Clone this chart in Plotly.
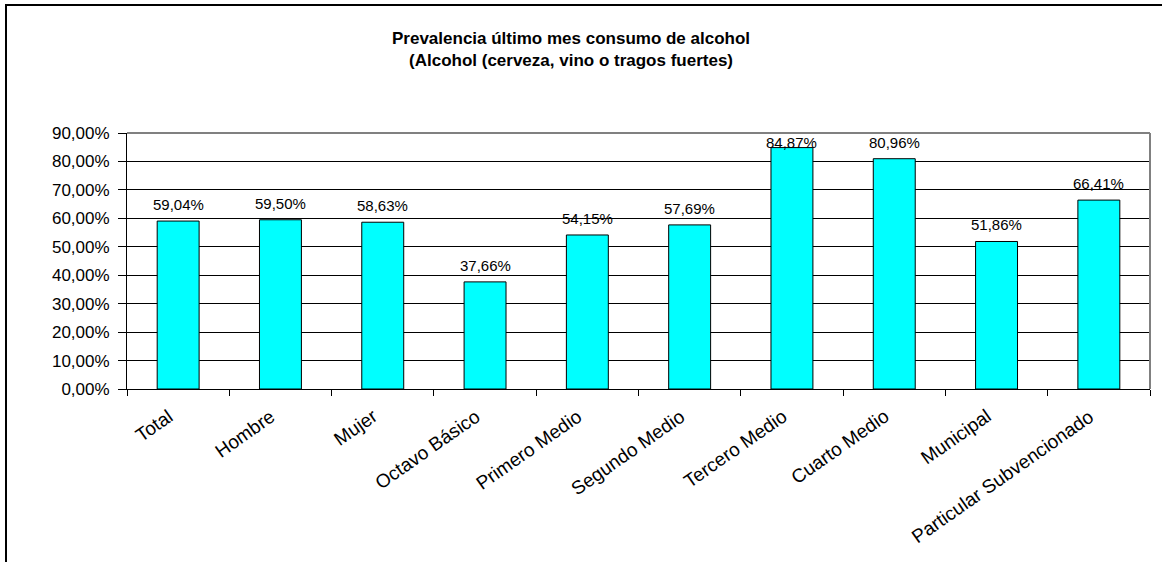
import plotly.graph_objects as go

categories = ["Total", "Hombre", "Mujer", "Octavo Básico", "Primero Medio",
              "Segundo Medio", "Tercero Medio", "Cuarto Medio", "Municipal",
              "Particular Subvencionado"]
prevalence = [0.5904, 0.5950, 0.5863, 0.3766, 0.5415, 0.5769, 0.8487, 0.8096, 0.5186, 0.6641]
title_lines = ["Prevalencia último mes consumo de alcohol",
               "(Alcohol (cerveza, vino o tragos fuertes)"]

FONT = "Liberation Sans, Arial, sans-serif"
Y_MAX = 0.9

W, H = 1162, 562
L, R, T, B = 127, 12, 133, 173
pw, ph = W - L - R, H - T - B
units_per_px = Y_MAX / ph


def px_x(x):
    return (x - L) / pw


def px_y(y):
    return (H - B - y) / ph


fig = go.Figure()
fig.add_trace(go.Bar(
    x=categories, y=prevalence,
    marker=dict(color="#00FFFF", line=dict(color="black", width=1)),
    hoverinfo="skip",
))

annotations = []
# two-line bold title
annotations.append(dict(
    text="<br>".join("<b>" + line + "</b>" for line in title_lines),
    x=px_x(571), y=px_y(49), xref="paper", yref="paper",
    xanchor="center", yanchor="middle", showarrow=False, borderpad=0,
    font=dict(family=FONT, size=17, color="black"),
))
# value labels (kept inside the plot area like the original)
for cat, v in zip(categories, prevalence):
    ypos = min(v + 16.5 * units_per_px, Y_MAX - 9.5 * units_per_px)
    annotations.append(dict(
        text=f"{v * 100:.2f}%".replace(".", ","),
        x=cat, y=ypos, xref="x", yref="y",
        xanchor="center", yanchor="middle", showarrow=False,
        font=dict(family=FONT, size=15, color="black"),
    ))
# rotated category labels
for cat in categories:
    annotations.append(dict(
        text=cat, x=cat, y=0, xref="x", yref="paper",
        xanchor="right", yanchor="top", showarrow=False,
        textangle=-35, xshift=0, yshift=-15, borderpad=0,
        font=dict(family=FONT, size=19, color="black"),
    ))

fig.update_layout(
    width=W, height=H,
    margin=dict(l=L, r=R, t=T, b=B),
    paper_bgcolor="white", plot_bgcolor="white",
    separators=",.",
    showlegend=False,
    bargap=0.59,
    font=dict(family=FONT, color="black"),
    xaxis=dict(
        type="category", tickson="boundaries", ticks="outside", ticklen=6,
        tickcolor="black", showline=True, linecolor="black", linewidth=1,
        showticklabels=False, showgrid=False,
    ),
    yaxis=dict(
        range=[0, Y_MAX], dtick=0.1, tickformat=".2%",
        ticks="outside", ticklen=8, tickcolor="black",
        showline=True, linecolor="black", linewidth=1,
        showgrid=True, gridcolor="black", gridwidth=1,
        tickfont=dict(family=FONT, size=17, color="black"),
        ticklabelstandoff=5,
        zeroline=False,
    ),
    annotations=annotations,
    shapes=[
        # gray plot-area border top and right
        dict(type="line", xref="paper", yref="paper", x0=0, x1=1, y0=1, y1=1,
             line=dict(color="#808080", width=2), layer="above"),
        dict(type="line", xref="paper", yref="paper", x0=1, x1=1, y0=0, y1=1,
             line=dict(color="#808080", width=2), layer="above"),
        # outer chart frame
        dict(type="line", xref="paper", yref="paper", x0=px_x(6), x1=px_x(6),
             y0=px_y(4), y1=px_y(565), line=dict(color="black", width=2)),
        dict(type="line", xref="paper", yref="paper", x0=px_x(6), x1=px_x(1165),
             y0=px_y(5), y1=px_y(5), line=dict(color="black", width=2)),
    ],
)

fig.write_html("out.html", config={"displayModeBar": False},
               post_script="document.body.style.margin='0px';")
